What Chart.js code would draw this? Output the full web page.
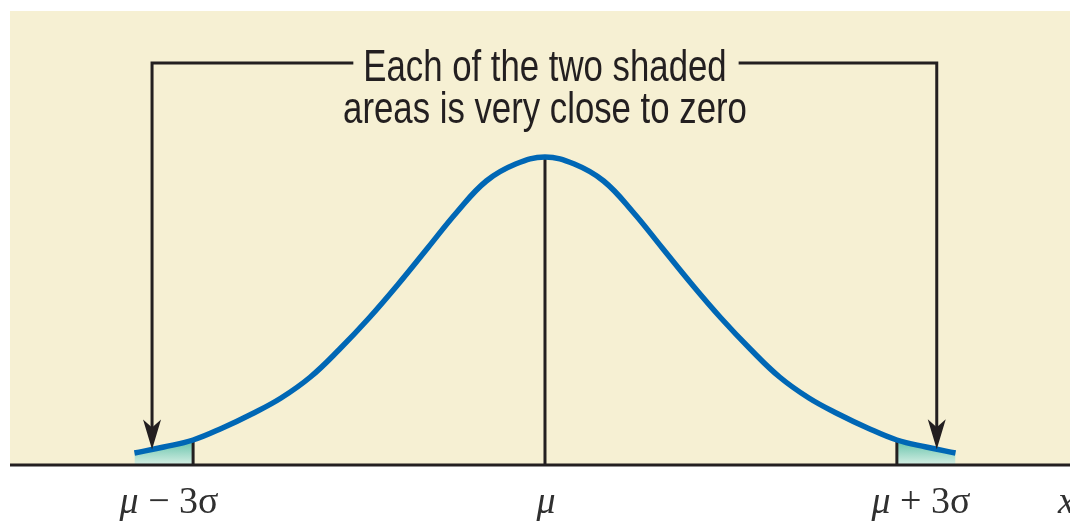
<!DOCTYPE html>
<html>
<head>
<meta charset="utf-8">
<title>Normal curve - mu +/- 3 sigma</title>
<script src="https://cdn.jsdelivr.net/npm/chart.js@4.4.1/dist/chart.umd.min.js"></script>
<style>
    html, body { margin: 0; padding: 0; background: #ffffff; }
    #wrap { width: 1070px; height: 522px; }
</style>
</head>
<body>
<div id="wrap"><canvas id="normalChart" width="1070" height="522"></canvas></div>
<script>
// Curve: x in sigma units from the mean, height above the axis
const sigmaSteps = [-3.5, -3.25, -3, -2.75, -2.5, -2.25, -2, -1.75, -1.5, -1.25, -1, -0.75, -0.5, -0.25,
    0, 0.25, 0.5, 0.75, 1, 1.25, 1.5, 1.75, 2, 2.25, 2.5, 2.75, 3, 3.25, 3.5];
const curveHeights = [12, 18, 25, 37, 51, 67, 88, 116, 147, 181, 217, 253, 284, 301,
    308, 301, 284, 253, 217, 181, 147, 116, 88, 67, 51, 37, 25, 18, 12];

// Axis ticks (mean and +/- 3 sigma) and their labels
const tickPositions = [-3, 0, 3];
const tickLabels = [['μ', ' − 3σ'], ['μ', ''], ['μ', ' + 3σ']];
const axisName = 'x';

// Callout text and where its arrows come down
const calloutLines = ['Each of the two shaded', 'areas is very close to zero'];
const calloutArrowX = [-3.35, 3.34];
const calloutLevel = 402;

// Visible range of the plot
const xDomain = [-4.561, 4.476];
const yDomain = [0, 454];

// Colours
const CREAM = '#f6f0d3';
const CURVE_BLUE = '#0067b5';
const INK = '#231f20';

const curvePoints = sigmaSteps.map((x, i) => ({ x: x, y: curveHeights[i] }));
const leftTail = curvePoints.filter(p => p.x <= -3);
const rightTail = curvePoints.filter(p => p.x >= 3);

function heightAt(x) {
    for (let i = 0; i < sigmaSteps.length - 1; i++) {
        const a = sigmaSteps[i], b = sigmaSteps[i + 1];
        if (x >= a && x <= b) {
            const t = (x - a) / (b - a);
            return curveHeights[i] + t * (curveHeights[i + 1] - curveHeights[i]);
        }
    }
    return 0;
}

const dropLines = tickPositions.map(x => [{ x: x, y: 0 }, { x: x, y: heightAt(x) }]);

function tailFill(context) {
    const chart = context.chart;
    const area = chart.chartArea;
    if (!area) return '#a6dccb';
    const top = chart.scales.y.getPixelForValue(26);
    const g = chart.ctx.createLinearGradient(0, top, 0, area.bottom);
    g.addColorStop(0, '#5dbfa5');
    g.addColorStop(1, '#d6efe5');
    return g;
}

// Draws the cream panel, axis line, callout and the labels under the axis
const decorations = {
    id: 'decorations',
    beforeDraw(chart) {
        const { ctx, chartArea } = chart;
        ctx.save();
        ctx.fillStyle = '#ffffff';
        ctx.fillRect(0, 0, chart.width, chart.height);
        ctx.fillStyle = CREAM;
        ctx.fillRect(chartArea.left, chartArea.top, chartArea.right - chartArea.left, chartArea.bottom - chartArea.top);
        ctx.restore();
    },
    afterDatasetsDraw(chart) {
        const { ctx, chartArea } = chart;
        const xs = chart.scales.x, ys = chart.scales.y;
        const midX = xs.getPixelForValue(0);
        const lineY = ys.getPixelForValue(calloutLevel);

        ctx.save();

        // axis line
        ctx.strokeStyle = INK;
        ctx.lineWidth = 3;
        ctx.beginPath();
        ctx.moveTo(chartArea.left, chartArea.bottom);
        ctx.lineTo(chartArea.right, chartArea.bottom);
        ctx.stroke();

        // callout text, a narrow sans
        const narrow = 0.79;
        ctx.font = '44px "Liberation Sans", Arial, sans-serif';
        ctx.fillStyle = INK;
        ctx.textAlign = 'center';
        ctx.textBaseline = 'alphabetic';
        let firstHalf = 0;
        calloutLines.forEach((line, i) => {
            const w = ctx.measureText(line).width * narrow;
            if (i === 0) firstHalf = w / 2;
            ctx.save();
            ctx.translate(midX, lineY + 18 + i * 42);
            ctx.scale(narrow, 1);
            ctx.fillText(line, 0, 0);
            ctx.restore();
        });

        // brackets with arrows down to the tails
        ctx.lineWidth = 3;
        ctx.lineCap = 'butt';
        calloutArrowX.forEach(ax => {
            const px = xs.getPixelForValue(ax);
            const tipY = ys.getPixelForValue(heightAt(ax));
            const endX = ax < 0 ? midX - firstHalf - 10 : midX + firstHalf + 12;
            ctx.beginPath();
            ctx.moveTo(endX, lineY);
            ctx.lineTo(px, lineY);
            ctx.lineTo(px, tipY - 20);
            ctx.stroke();

            ctx.beginPath();
            ctx.moveTo(px, tipY);
            ctx.lineTo(px - 9, tipY - 30);
            ctx.lineTo(px, tipY - 22);
            ctx.lineTo(px + 9, tipY - 30);
            ctx.closePath();
            ctx.fill();
        });

        // labels under the axis
        const labelY = chartArea.bottom + 48;
        ctx.fillStyle = '#303030';
        ctx.textAlign = 'left';
        const italic = 'italic 38px "Liberation Serif", "Times New Roman", serif';
        const upright = '38px "Liberation Serif", "Times New Roman", serif';
        tickPositions.forEach((t, i) => {
            const [sym, rest] = tickLabels[i];
            ctx.font = italic;
            const w1 = ctx.measureText(sym).width;
            ctx.font = upright;
            const w2 = ctx.measureText(rest).width;
            const shift = t === 0 ? 1 : Math.sign(t) * 24;
            const cx = xs.getPixelForValue(t) + shift;
            const start = cx - (w1 + w2) / 2;
            ctx.font = italic;
            ctx.fillText(sym, start, labelY);
            ctx.font = upright;
            ctx.fillText(rest, start + w1, labelY);
        });
        ctx.font = italic;
        ctx.fillText(axisName, chartArea.right - 12, labelY);

        ctx.restore();
    }
};

const ctx = document.getElementById('normalChart').getContext('2d');
new Chart(ctx, {
    type: 'line',
    data: {
        datasets: [
            {
                data: curvePoints,
                borderColor: CURVE_BLUE,
                borderWidth: 5.5,
                borderCapStyle: 'butt',
                tension: 0.4,
                pointRadius: 0,
                fill: false,
            },
            ...dropLines.map(pts => ({
                data: pts,
                borderColor: INK,
                borderWidth: 3,
                pointRadius: 0,
                fill: false,
            })),
            {
                data: leftTail,
                borderWidth: 0,
                backgroundColor: tailFill,
                tension: 0.4,
                pointRadius: 0,
                fill: 'origin',
            },
            {
                data: rightTail,
                borderWidth: 0,
                backgroundColor: tailFill,
                tension: 0.4,
                pointRadius: 0,
                fill: 'origin',
            },
        ],
    },
    options: {
        responsive: false,
        animation: false,
        events: [],
        layout: { padding: { left: 10, top: 11, right: 0, bottom: 57 } },
        plugins: {
            legend: { display: false },
            tooltip: { enabled: false },
        },
        scales: {
            x: { type: 'linear', display: false, min: xDomain[0], max: xDomain[1] },
            y: { type: 'linear', display: false, min: yDomain[0], max: yDomain[1] },
        },
    },
    plugins: [decorations],
});
</script>
</body>
</html>
